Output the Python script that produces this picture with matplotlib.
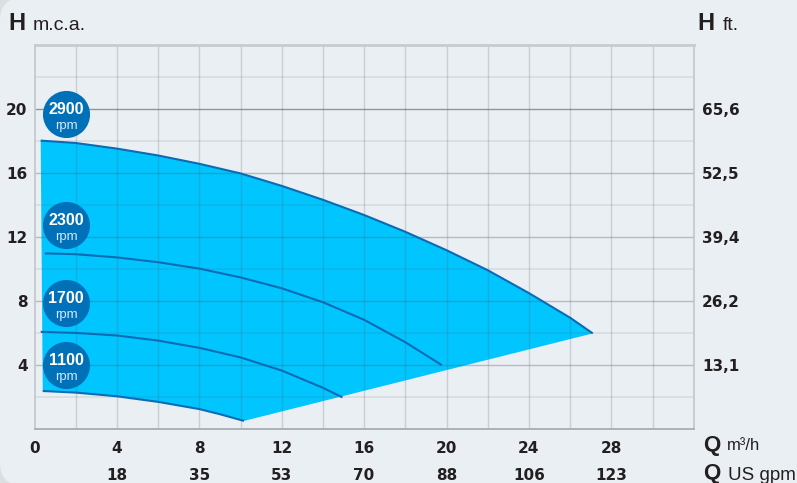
import numpy as np
import matplotlib
matplotlib.use("Agg")
import matplotlib.pyplot as plt
from matplotlib.patches import FancyBboxPatch

plt.rcParams['font.family'] = ['Liberation Sans', 'DejaVu Sans']

# flow m3/h and head m.c.a.
q_2900 = [0.3, 2, 4, 6, 8, 10, 12, 14, 16, 18, 20, 22, 24, 26, 27.1]
h_2900 = [18.05, 17.9, 17.55, 17.12, 16.6, 16.0, 15.22, 14.35, 13.4, 12.35, 11.2, 9.95, 8.52, 6.98, 6.0]
q_2300 = [0.5, 2, 4, 6, 8, 10, 12, 14, 16, 18, 19.77]
h_2300 = [11.0, 10.95, 10.75, 10.45, 10.05, 9.5, 8.82, 7.95, 6.85, 5.45, 4.02]
q_1700 = [0.3, 2, 4, 6, 8, 10, 12, 14, 14.95]
h_1700 = [6.1, 6.03, 5.87, 5.55, 5.1, 4.5, 3.68, 2.6, 2.0]
q_1100 = [0.4, 2, 4, 6, 8, 9, 10.17]
h_1100 = [2.4, 2.3, 2.07, 1.72, 1.27, 0.95, 0.53]

rpm = ["2900", "2300", "1700", "1100"]
badge_q = [1.53, 1.53, 1.53, 1.53]
badge_h = [19.7, 12.75, 7.9, 4.0]

q_ticks = [0, 4, 8, 12, 16, 20, 24, 28]
gpm_ticks = [4, 8, 12, 16, 20, 24, 28]
gpm_labels = ["18", "35", "53", "70", "88", "106", "123"]
h_ticks = [4, 8, 12, 16, 20]
ft_labels = ["13,1", "26,2", "39,4", "52,5", "65,6"]

W, H = 797, 483
BG = "#eaeff4"
FILL = "#00c5ff"
LINE = "#0b6cb5"
BADGE = "#0070b8"
TEXT = "#231f20"


def px_text(fig, x, y, s, **kw):
    fig.text(x / W, 1 - y / H, s, va="center", color=TEXT, **kw)


def plot():
    fig = plt.figure(figsize=(W / 100, H / 100), dpi=100, facecolor="#dcdfdf")
    corner = FancyBboxPatch((0, -3), W + 60, H + 6, boxstyle="round,pad=0,rounding_size=24",
                            transform=None, fc=BG, ec="none", zorder=-5)
    fig.add_artist(corner)
    ax = fig.add_axes([34.5 / W, 1 - 429.4 / H, 659.2 / W, 384 / H], facecolor="none")
    ax.set_xlim(0, 32)
    ax.set_ylim(0, 24)

    # pump envelope: top curve, then bottom speed curve, then straight back to the tip
    qs = list(q_2900) + q_1100[::-1] + [q_2900[0]]
    hs = list(h_2900) + h_1100[::-1] + [h_2900[0]]
    ax.fill(qs, hs, color=FILL, lw=0, zorder=1)

    # grid sits over the fill
    for x in np.arange(2, 32, 2):
        ax.axvline(x, color="#5a6068", alpha=0.22, lw=1.0, zorder=2)
    for y in np.arange(2, 24, 4):
        ax.axhline(y, color="#5a6068", alpha=0.13, lw=1.2, zorder=2)
    for y in np.arange(4, 24, 4):
        ax.axhline(y, color="#5a6068", alpha=0.62 if y == 20 else 0.36, lw=1.0, zorder=2)

    for q, h in [(q_2900, h_2900), (q_2300, h_2300), (q_1700, h_1700), (q_1100, h_1100)]:
        ax.plot(q, h, color=LINE, lw=1.5, zorder=3, solid_capstyle="butt")

    ax.scatter(badge_q, badge_h, s=1150, color=BADGE, lw=0, zorder=4, clip_on=False)
    for name, q, h in zip(rpm, badge_q, badge_h):
        ax.annotate(name, (q, h), xytext=(0, 3.2), textcoords="offset points", ha="center", va="center",
                    color="white", fontsize=11.5, fontweight="bold", zorder=5)
        ax.annotate("rpm", (q, h), xytext=(0, -8.6), textcoords="offset points", ha="center", va="center",
                    color="#d5e8f5", fontsize=9.5, zorder=5)

    for side, col, width in [("left", "#c3c6cb", 1.2), ("bottom", "#a9adb3", 1.3),
                             ("top", "#c8cbce", 2.0), ("right", "#c3c6cb", 1.2)]:
        ax.spines[side].set_color(col)
        ax.spines[side].set_linewidth(width)

    tick_font = dict(fontsize=11, fontweight="bold", color=TEXT, family="DejaVu Sans")
    ax.set_xticks(q_ticks, [str(v) for v in q_ticks], **tick_font)
    ax.set_yticks(h_ticks, [str(v) for v in h_ticks], **tick_font)
    ax.tick_params(axis="x", length=0, pad=8)
    ax.tick_params(axis="y", length=0, pad=5)

    sec_x = ax.secondary_xaxis("bottom")
    sec_x.set_xticks(gpm_ticks, gpm_labels, **tick_font)
    sec_x.tick_params(length=0, pad=28)
    sec_x.spines["bottom"].set_visible(False)

    sec_y = ax.secondary_yaxis("right")
    sec_y.set_yticks(h_ticks, ft_labels, **tick_font)
    sec_y.tick_params(length=0, pad=6)
    sec_y.spines["right"].set_visible(False)

    px_text(fig, 8, 24, "H", fontsize=17, fontweight="bold")
    px_text(fig, 33, 26, "m.c.a.", fontsize=14)
    px_text(fig, 697, 24, "H", fontsize=17, fontweight="bold")
    px_text(fig, 723, 26, "ft.", fontsize=14)
    px_text(fig, 703, 445, "Q", fontsize=16, fontweight="bold")
    px_text(fig, 727, 446, "m³/h", fontsize=12)
    px_text(fig, 703, 474, "Q", fontsize=16, fontweight="bold")
    px_text(fig, 728, 475, "US gpm", fontsize=13.5)

    fig.savefig("out.png", dpi=100, facecolor=fig.get_facecolor())


if __name__ == '__main__':
    plot()
